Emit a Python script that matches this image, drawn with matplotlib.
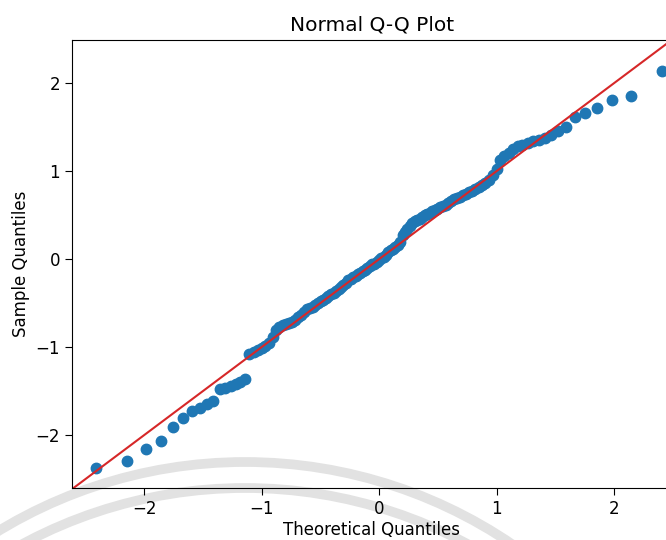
from statistics import NormalDist

import matplotlib
matplotlib.use("Agg")
import matplotlib.pyplot as plt
from matplotlib.patches import Arc

sample = [
    -2.37, -2.29, -2.16, -2.07, -1.91, -1.80, -1.72, -1.69, -1.64, -1.61,
    -1.48, -1.46, -1.44, -1.42, -1.39, -1.36, -1.08, -1.05, -1.03, -1.01,
    -0.99, -0.95, -0.88, -0.81, -0.77, -0.75, -0.74, -0.73, -0.71, -0.69,
    -0.66, -0.63, -0.60, -0.57, -0.55, -0.54, -0.52, -0.50, -0.48, -0.46,
    -0.44, -0.42, -0.40, -0.38, -0.36, -0.34, -0.32, -0.29, -0.27, -0.24,
    -0.22, -0.20, -0.19, -0.17, -0.16, -0.14, -0.12, -0.10, -0.08, -0.06,
    -0.05, -0.03, -0.01, 0.01, 0.03, 0.05, 0.08, 0.10, 0.12, 0.14,
    0.16, 0.19, 0.28, 0.31, 0.34, 0.38, 0.41, 0.43, 0.45, 0.46,
    0.48, 0.50, 0.51, 0.53, 0.55, 0.56, 0.57, 0.59, 0.60, 0.62,
    0.64, 0.66, 0.68, 0.69, 0.71, 0.73, 0.74, 0.76, 0.78, 0.80,
    0.82, 0.84, 0.87, 0.90, 0.96, 1.02, 1.13, 1.17, 1.21, 1.25,
    1.28, 1.30, 1.32, 1.34, 1.35, 1.38, 1.41, 1.46, 1.50, 1.62,
    1.66, 1.72, 1.81, 1.85, 2.14,
]

# theoretical normal quantiles, plotting positions i/(n+1)
n = len(sample)
theoretical = [NormalDist().inv_cdf(i / (n + 1)) for i in range(1, n + 1)]

xticks = [-2, -1, 0, 1, 2]
yticks = [-2, -1, 0, 1, 2]

fig = plt.figure(figsize=(6.66, 5.4), dpi=100)
ax = fig.add_axes([72 / 666, 52 / 540, 600 / 666, 448 / 540])
ax.patch.set_alpha(0)

ax.plot(theoretical, sample, 'o', color='#1f77b4', markersize=7.5)
ax.axline((0, 0), slope=1, color='#d62728', linewidth=1.5)

ax.set_xlim(-2.613, 2.493)
ax.set_ylim(-2.60, 2.49)
ax.set_xticks(xticks)
ax.set_yticks(yticks)
ax.tick_params(labelsize=12, length=5)
ax.set_xlabel('Theoretical Quantiles', fontsize=12, labelpad=2)
ax.set_ylabel('Sample Quantiles', fontsize=12)
ax.set_title('Normal Q-Q Plot', fontsize=14.5, pad=7)

# faint watermark arcs along the bottom of the screenshot
for cy, r in [(937, 475), (958, 470)]:
    arc = Arc((245 / 666, 1 - cy / 540), 2 * r / 666, 2 * r / 540,
              theta1=20, theta2=160, color='#e2e2e2', linewidth=7,
              transform=fig.transFigure, zorder=-1)
    fig.add_artist(arc)

fig.savefig('out.png', dpi=100)
